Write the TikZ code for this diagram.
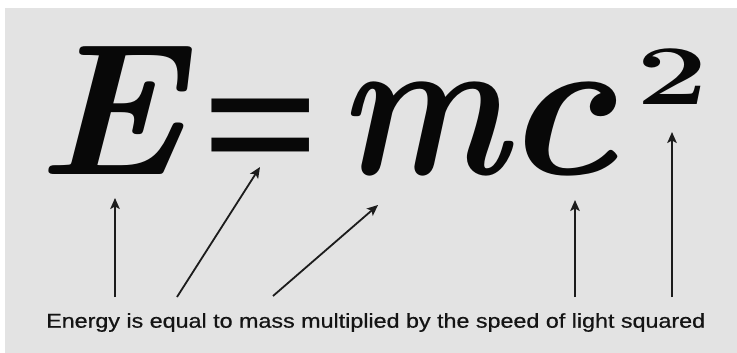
\documentclass[tikz,border=0pt]{standalone}
\usepackage{fontspec}
\newfontfamily\eqfont{Liberation Serif}
\newfontfamily\capfont{Liberation Sans}[FakeBold=0.6]
\usetikzlibrary{arrows.meta}
\definecolor{bggray}{RGB}{227,227,227}
\definecolor{inkc}{RGB}{8,8,8}
\definecolor{capc}{RGB}{20,20,20}
\definecolor{arrowcol}{RGB}{28,28,28}
\tikzset{
  bigE/.style={inner sep=0pt, anchor=base, text=inkc, font=\fontsize{188}{188}\selectfont\bfseries\itshape},
  bigmc/.style={inner sep=0pt, anchor=base, text=inkc, font=\fontsize{205}{205}\selectfont\bfseries\itshape},
  bigup/.style={inner sep=0pt, anchor=base, text=inkc, font=\eqfont\fontsize{196}{196}\selectfont\bfseries},
  supnum/.style={inner sep=0pt, anchor=base, text=inkc, font=\fontsize{85}{85}\selectfont\bfseries},
  caption/.style={inner sep=0pt, anchor=base west, text=capc, font=\capfont\fontsize{20}{20}\selectfont},
  pointer/.style={draw=arrowcol, line width=1.8pt, -{Stealth[length=11pt,width=9.5pt,inset=2.5pt]}},
}
\begin{document}
\begin{tikzpicture}[x=1pt,y=-1pt]
\useasboundingbox (0,0) rectangle (737,353);
\fill[white] (0,0) rectangle (737,353);
\fill[bggray] (5,8) rectangle (737,353);
% formula
\node[bigE] (E) at (110,175) {\scalebox{1.03}[1]{E}};
\node[bigup] (eq) at (261,190) {\scalebox{1.07}[1]{=}};
\node[bigmc] (m) at (423,175) {\scalebox{0.88}[1]{m}};
\node[bigmc] (c) at (560,175) {\scalebox{1.05}[1]{c}};
\node[supnum] (two) at (672,104) {\scalebox{1.5}[1]{2}};
% caption
\node[caption] (cap) at (46,327.7) {\resizebox{659pt}{\height}{Energy is equal to mass multiplied by the speed of light squared}};
% arrow ends
\coordinate (aE) at (115,297);   \coordinate (hE) at (115,198);
\coordinate (aEq) at (177,297);  \coordinate (hEq) at (260,167);
\coordinate (aM) at (273,296);   \coordinate (hM) at (378,205);
\coordinate (aC) at (575,297);   \coordinate (hC) at (575,200);
\coordinate (aT) at (672,297);   \coordinate (hT) at (672,132);
\draw[pointer] (aE) -- (hE);
\draw[pointer] (aEq) -- (hEq);
\draw[pointer] (aM) -- (hM);
\draw[pointer] (aC) -- (hC);
\draw[pointer] (aT) -- (hT);
\end{tikzpicture}
\end{document}
